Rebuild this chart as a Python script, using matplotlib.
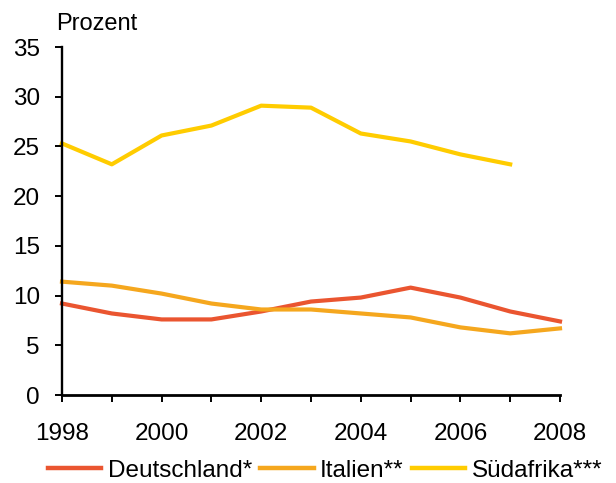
import matplotlib
matplotlib.use("Agg")
import matplotlib.pyplot as plt

plt.rcParams['font.family'] = ['Liberation Sans', 'DejaVu Sans']

years = list(range(1998, 2009))
deutschland = [9.2, 8.2, 7.6, 7.6, 8.4, 9.4, 9.8, 10.8, 9.8, 8.4, 7.4]
italien = [11.4, 11.0, 10.2, 9.2, 8.6, 8.6, 8.2, 7.8, 6.8, 6.2, 6.7]
suedafrika_years = list(range(1998, 2008))
suedafrika = [25.3, 23.2, 26.1, 27.1, 29.1, 28.9, 26.3, 25.5, 24.2, 23.2]

labels = ['Deutschland*', 'Italien**', 'Südafrika***']
colors = ['#EA5530', '#F5A71E', '#FFCC00']

fig = plt.figure(figsize=(6.16, 4.83), dpi=100)
ax = fig.add_axes([62 / 616, 1 - 395 / 483, (560 - 62) / 616, (395 - 47) / 483])

ax.plot(years, deutschland, color=colors[0], lw=3, label=labels[0], clip_on=False)
ax.plot(years, italien, color=colors[1], lw=3, label=labels[1], clip_on=False)
ax.plot(suedafrika_years, suedafrika, color=colors[2], lw=3, label=labels[2], clip_on=False)

ax.set_xlim(1998, 2008)
ax.set_ylim(0, 35)
ax.set_yticks(range(0, 36, 5))
ax.set_xticks(years)
ax.set_xticklabels([str(y) if y % 2 == 0 else '' for y in years])
ax.spines['top'].set_visible(False)
ax.spines['right'].set_visible(False)
ax.spines['left'].set_linewidth(1.7)
ax.spines['bottom'].set_linewidth(2)
ax.tick_params(axis='both', labelsize=17.5, width=1.4, length=5, direction='out')
ax.tick_params(axis='x', pad=15)
ax.tick_params(axis='y', pad=11)

fig.text(56 / 616, 1 - 24 / 483, 'Prozent', fontsize=17, ha='left', va='center')

leg = fig.legend(loc='center left', bbox_to_anchor=(48 / 616, 1 - 471 / 483), ncol=3,
                 frameon=False, fontsize=17.5, handlelength=2.2, handletextpad=0.25,
                 columnspacing=0.35, borderaxespad=0, borderpad=0)
for h in leg.get_lines():
    h.set_linewidth(3.2)

fig.savefig('out.png', dpi=100)
